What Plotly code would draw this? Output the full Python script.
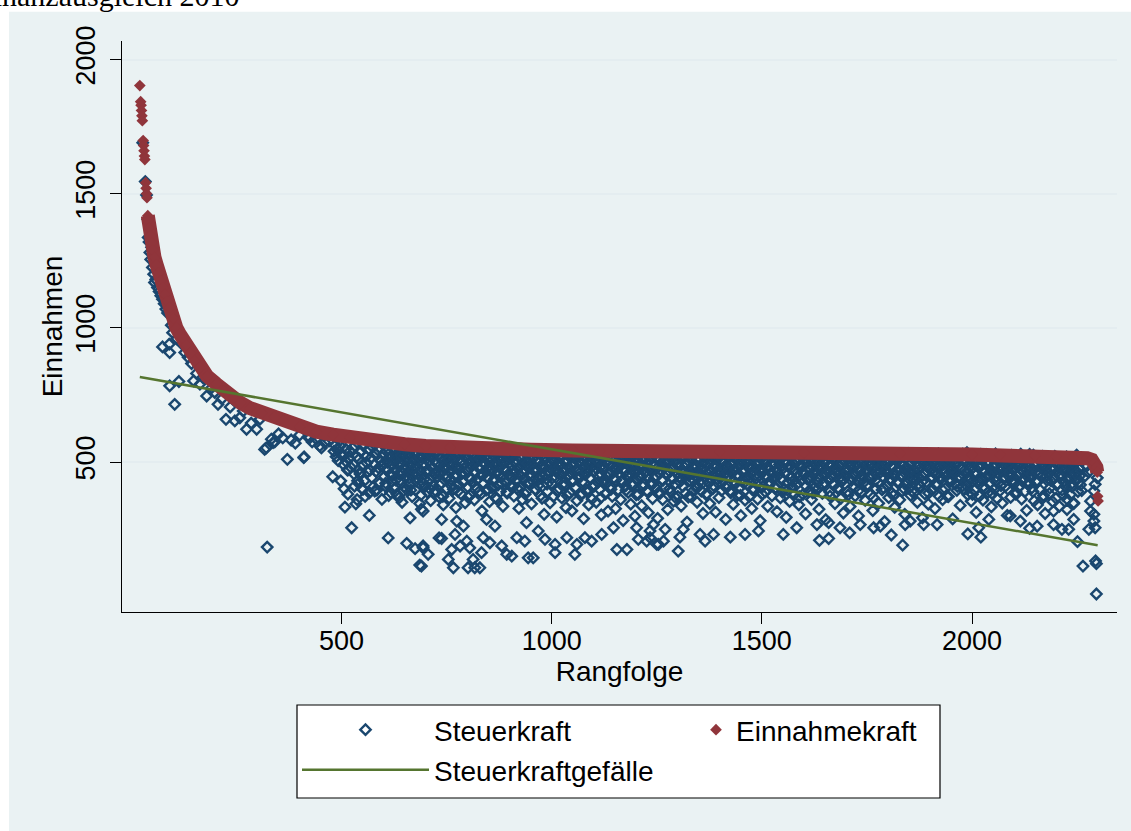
import plotly.graph_objects as go

# ---------------- data ----------------
tick_werte = [500, 1000, 1500, 2000]

# Einnahmekraft: (Rangfolge, Wert)
einnahme_punkte = [(20,1903),(22,1843),(23,1830),(24,1810),(25,1790),(26,1772),(28,1698),(29,1680),
    (30,1660),(31,1640),(32,1627),(34,1541),(35,1520),(36,1500),(37,1485),(39,1418),(40,1400),
    (42,1372),(45,1342),(48,1315),(51,1290),(55,1262),(60,1235),(65,1205),(70,1175),(75,1149),
    (80,1125),(85,1100),(91,1075),(100,1035),(107,1000),(115,977),(122,960),(131,935),(140,905),
    (150,877),(163,851),(180,820),(202,791),(220,765),(242,739),(260,720),(282,701),(310,684),
    (340,667),(361,653),(400,631),(440,613),(480,602),(520,591),(560,582),(599,575),(650,566),
    (700,560),(758,554),(850,549),(950,546),(1050,543),(1115,541),(1234,540),(1400,538),
    (1600,535),(1829,531),(2000,528),(2067,527),(2150,524),(2200,521),(2240,518),(2274,514),
    (2285,508),(2292,496),(2296,480),(2298,462),(2299,372),(2300,355)]
einnahme_band_start = 39     # from here the red markers form a continuous band
einnahme_band_ende = 2298

# Steuerkraftgefaelle (linear trend): endpoints
gefaelle_rang = [20, 2299]
gefaelle_wert = [817, 190]

# Steuerkraft: individually read points (Rangfolge, Wert)
steuer_punkte = [(27,1690),(33,1545),(36,1495),(39,1405),(40,1337),(42,1320),(44,1281),(46,1255),
    (48,1300),(50,1225),(53,1200),(55,1169),(58,1180),(62,1150),(66,1135),(70,1120),(74,1107),
    (74,929),(78,1090),(82,1070),(86,1055),(90,939),(91,908),(91,784),(95,1010),(98,982),(103,715),
    (108,960),(113,800),(120,940),(127,908),(135,890),(143,867),(148,802),(155,830),(163,790),
    (170,815),(179,746),(190,775),(198,760),(206,715),(215,735),(225,659),(235,705),(246,653),
    (258,665),(266,690),(274,622),(285,645),(298,622),(306,660),(317,547),(321,553),(323,183),
    (333,585),(337,572),(341,575),(350,605),(360,590),(371,510),(380,582),(390,570),(400,600),
    (410,516),(411,519),(420,593),(425,591),(430,575),(440,585),(448,560),(452,553),(460,572),
    (470,578),(479,445),(482,540),(485,562),(487,520),(490,545),(492,505),(495,580),(497,560),
    (498,430),(500,532),(503,520),(505,490),(506,400),(508,332),(510,548),(512,500),(514,470),
    (515,380),(516,472),(518,515),(520,540),(522,480),(524,255),(526,552),(528,490),(530,455),
    (531,410),(532,560),(534,344),(536,520),(537,360),(538,430),(540,470),(541,420),
    (544,460),(551,398),(566,301),(579,392),(611,217),(647,392),(655,197),(663,292),(675,177),
    (686,116),(690,324),(694,187),(694,317),(694,180),(706,156),(690,112),(732,217),(738,286),
    (738,215),(754,137),(766,106),(762,174),(774,280),(770,230),(782,187),(790,261),(798,205),
    (801,106),(813,137),(817,106),(829,106),(805,180),(833,162),(837,218),(845,286),(853,199),
    (865,261),(881,187),(893,156),(905,149),(917,218),(936,205),(944,143),(956,143),(940,274),
    (968,243),(984,212),(1008,193),(1008,162),(1036,218),(1055,156),(1060,193),(1079,218),
    (1095,205),(1119,230),(1155,174),(1179,174),(1206,212),(1234,218),(1250,193),(1147,255),
    (1202,255),(1242,267),(1301,168),(1254,193),(1226,205),(1266,205),(1305,220),(1313,249),
    (1353,230),(1365,205),(1385,230),(1425,220),(1460,230),(1492,243),(1551,230),(1583,255),
    (1631,267),(1637,208),(1659,215),(1659,274),(1686,255),(1709,236),(1734,267),(1766,255),
    (1234,243),(1270,249),(1808,228),(1835,190),(1782,261),(1841,267),(1853,280),(1885,267),
    (1917,267),(1990,232),(2021,220),(2016,255),(2040,286),(2091,299),(2115,280),(2137,253),
    (2155,261),(2194,267),(2214,249),(2230,249),(2242,286),(2251,203),(2264,112),(2278,249),
    (2293,255),(2290,305),(2282,317),(2294,131),(2296,121),(2296,8),(2290,280),(2194,317),
    (2226,323),(2242,348),(2282,354),(2290,392),(2293,417),(2298,441)]

# Steuerkraft: dense cloud, every second rank starting at 542
steuer_dicht_start = 542
steuer_dicht_schritt = 2
steuer_dicht = [
    512,455,538,401,489,560,430,372,521,497,463,548,385,470,515,442,556,408,490,530,
    465,395,545,478,420,552,503,361,488,527,446,410,541,470,498,375,533,455,518,428,
    490,547,402,468,525,380,512,456,539,431,495,350,520,477,444,542,398,505,462,530,
    418,486,545,371,508,452,527,395,481,536,437,500,345,470,519,425,490,540,408,462,
    525,388,471,502,433,356,517,480,412,534,459,392,498,445,527,370,486,511,421,463,
    340,505,478,531,402,447,518,365,490,436,522,471,398,509,452,330,486,528,415,474,
    500,381,457,533,426,492,348,515,468,407,527,441,376,503,485,422,530,359,461,496,
    434,512,388,477,529,451,318,498,420,537,466,395,508,441,482,352,519,473,405,490,
    526,437,368,501,459,414,532,480,390,511,446,335,495,470,522,428,384,507,454,529,
    410,488,442,520,373,499,463,534,402,476,327,515,449,491,360,523,437,468,505,391,
    482,531,419,455,506,344,490,427,518,462,396,535,471,413,500,452,376,524,445,487,
    305,478,512,436,390,527,461,348,495,420,506,372,484,530,443,295,468,517,401,489,
    452,366,523,475,412,498,330,509,447,481,385,528,460,318,493,431,515,404,470,356,
    526,441,497,377,463,512,428,289,485,452,520,395,471,340,505,437,480,362,529,416,
    466,508,350,489,424,531,398,457,303,514,476,433,500,381,527,445,317,492,458,410,
    519,372,483,441,506,326,470,527,396,455,490,360,516,429,282,498,463,411,532,447,
    387,501,458,343,521,474,415,489,298,510,436,468,379,525,451,494,337,482,418,507,
    462,529,392,448,311,503,470,421,517,364,486,440,530,403,476,290,512,457,383,495,
    433,360,520,479,405,496,452,323,508,466,389,527,442,475,354,501,418,531,460,372,
    498,445,514,336,472,409,523,461,384,490,276,506,448,432,519,370,483,456,395,528,
    414,487,350,505,463,427,532,392,471,308,499,441,516,378,458,494,422,345,511,467,
    525,401,448,484,313,509,436,470,367,520,455,393,502,428,531,474,286,490,447,410,
    476,521,385,458,497,342,468,513,420,451,376,527,489,405,300,507,462,434,519,358,
    442,496,415,530,371,483,455,327,511,468,397,522,438,487,362,503,449,281,477,515,
    408,465,524,389,450,500,335,479,427,516,460,374,493,441,529,403,470,315,506,452,
    491,366,512,437,475,398,527,459,294,502,425,481,353,518,446,409,496,471,380,532,
    457,418,503,340,486,526,431,465,379,510,453,307,497,436,521,392,474,448,360,513,
    480,531,406,462,395,508,445,324,489,470,517,383,454,499,421,285,505,466,438,525,
    373,494,451,512,417,476,345,528,460,402,485,439,519,365,497,430,310,508,472,447,
    516,390,469,501,334,482,443,527,411,458,374,513,492,426,299,506,463,387,530,450,
    423,487,357,509,466,415,522,440,378,496,453,319,481,518,432,400,503,475,346,524,
    461,508,396,446,488,278,470,529,412,455,367,500,437,516,384,483,449,331,510,468,
    501,428,474,359,523,445,392,490,462,305,514,420,478,531,402,457,376,498,439,517,
    385,466,512,433,350,495,471,409,526,448,292,504,459,381,519,426,487,343,476,507,
    442,521,398,463,489,326,508,451,416,530,372,485,437,502,360,474,513,401,447,494,
    514,371,483,430,505,456,288,472,526,419,461,394,497,445,517,338,480,408,529,452,
    468,500,413,535,378,490,443,509,354,476,428,520,397,463,312,505,484,432,373,523,
    436,489,358,511,467,403,527,450,386,498,421,474,333,516,458,480,399,530,445,364,
    507,455,392,478,520,347,494,438,512,410,467,301,503,447,485,368,525,431,476,418,
    492,380,518,446,405,487,459,529,362,471,434,510,390,452,320,500,479,423,515,441,
    403,467,526,355,485,427,498,340,512,460,396,478,445,521,375,490,308,472,433,505,
    458,382,497,430,515,352,476,441,500,365,462,418,489,335,505,450,395,470,428,482,
    410,495,362,468,440,503,378,455,420,487,345,472,498,431,462,390,476,448,415]

# Steuerkraft: core of the cloud, every fourth rank starting at 601
steuer_kern_start = 601
steuer_kern_schritt = 4
steuer_kern = [
    498,421,472,515,386,450,507,433,489,366,523,461,408,482,517,440,395,470,502,428,
    455,519,377,490,436,511,468,402,527,447,385,496,459,414,520,372,484,441,508,463,
    412,486,529,448,391,475,503,425,458,516,369,492,437,521,466,404,480,510,383,452,
    518,444,397,471,506,430,488,362,513,457,420,497,476,389,524,443,467,409,501,435,
    478,404,512,459,380,495,426,521,449,471,399,508,434,485,365,517,456,418,490,527,
    441,509,466,392,483,525,415,462,498,374,452,515,430,487,406,470,520,446,381,504,
    463,387,496,438,519,410,477,504,445,367,490,529,421,459,494,398,514,472,433,481,
    506,428,471,512,395,453,489,417,526,460,378,499,443,481,408,516,464,390,475,522,
    419,493,447,384,511,468,432,500,457,523,401,479,439,370,507,485,426,462,515,448,
    487,369,458,520,434,476,402,509,450,493,425,528,382,466,441,503,412,483,456,517,
    440,510,479,407,461,525,393,488,430,472,516,449,376,497,421,468,505,437,485,398,
    524,451,416,494,463,380,508,442,478,413,519,455,489,404,470,527,436,388,499,460,
    395,482,513,427,466,502,444,371,491,520,459,410,477,438,511,385,465,496,423,506,
    470,417,500,456,529,389,484,447,415,512,473,399,495,438,521,462,377,490,431,508,
    448,521,392,474,437,505,466,411,487,526,443,368,501,459,422,515,480,404,464,493,
    512,433,486,375,457,518,420,495,449,403,476,530,439,467,391,508,452,484,418,524,
    426,497,458,511,384,470,439,503,415,481,525,446,397,491,461,372,513,435,477,505,
    488,409,520,443,476,396,507,462,430,517,379,494,451,423,486,528,405,469,441,498,
    453,516,381,489,427,504,470,412,522,445,484,399,461,509,433,476,388,518,457,492,
    506,438,472,419,528,455,390,497,464,428,511,480,366,490,446,514,403,473,436,521,
    415,487,450,501,376,467,519,431,482,408,495,458,526,422,474,393,509,448,485,462]

titel_text = "Finanzausgleich 2010"
x_titel = "Rangfolge"
y_titel = "Einnahmen"
namen = ["Steuerkraft", "Einnahmekraft", "Steuerkraftgefälle"]

# ---------------- assemble ----------------
rang_s = ([p[0] for p in steuer_punkte]
          + [steuer_dicht_start + steuer_dicht_schritt * i for i in range(len(steuer_dicht))]
          + [steuer_kern_start + steuer_kern_schritt * i for i in range(len(steuer_kern))])
wert_s = [p[1] for p in steuer_punkte] + steuer_dicht + steuer_kern

rang_e = [p[0] for p in einnahme_punkte]
wert_e = [p[1] for p in einnahme_punkte]
band = [p for p in einnahme_punkte if einnahme_band_start <= p[0] <= einnahme_band_ende]

BLUE = "#1A476F"
RED = "#90353B"
GREEN = "#55752F"
BG = "#EAF2F3"

W, H = 1131, 831
ML, MR, MT, MB = 122, 14, 41, 219
PW = W - ML - MR
PH = H - MT - MB

def px_x(px):
    return (px - ML) / PW

def px_y(py):
    return (H - MB - py) / PH

fig = go.Figure()
fig.add_trace(go.Scatter(x=rang_s, y=wert_s, mode="markers", name=namen[0], legend="legend",
                         marker=dict(symbol="diamond-open", size=8, color=BLUE,
                                     line=dict(width=2.4, color=BLUE))))
fig.add_trace(go.Scatter(x=[p[0] for p in band], y=[p[1] for p in band], mode="lines",
                         line=dict(color=RED, width=14), showlegend=False, hoverinfo="skip"))
fig.add_trace(go.Scatter(x=rang_e, y=wert_e, mode="markers", name=namen[1], legend="legend3",
                         marker=dict(symbol="diamond", size=9, color=RED)))
fig.add_trace(go.Scatter(x=gefaelle_rang, y=gefaelle_wert, mode="lines", name=namen[2],
                         legend="legend2", line=dict(color=GREEN, width=2.5)))

legend_common = dict(bgcolor="rgba(0,0,0,0)", borderwidth=0, font=dict(size=28),
                     xanchor="left", yanchor="top", orientation="v")

fig.update_layout(
    width=W, height=H,
    margin=dict(l=ML, r=MR, t=MT, b=MB, autoexpand=False),
    paper_bgcolor="white", plot_bgcolor="white",
    font=dict(family="Liberation Sans, Arial, sans-serif", size=28, color="black"),
    showlegend=True,
    xaxis=dict(range=[-22.4, 2345], tickvals=tick_werte, ticks="outside", ticklen=11,
               tickwidth=1, tickcolor="black", showline=True, linecolor="black", linewidth=1.3,
               showgrid=False, zeroline=False, tickfont=dict(size=27), ticklabelstandoff=-7,
               title=dict(text=x_titel, font=dict(size=28), standoff=2)),
    yaxis=dict(range=[-59, 2069], tickvals=tick_werte, tickangle=-90, ticks="outside", ticklen=11,
               tickwidth=1, tickcolor="black", showline=True, linecolor="black", linewidth=1.3,
               showgrid=True, gridcolor="#E4EDF0", gridwidth=1.5, zeroline=False,
               tickfont=dict(size=27), ticklabelstandoff=4,
               title=dict(text=y_titel, font=dict(size=28), standoff=0)),
    legend=dict(x=px_x(297), y=px_y(705), itemwidth=127, **legend_common),
    legend2=dict(x=px_x(297), y=px_y(745), itemwidth=127, **legend_common),
    legend3=dict(x=px_x(696), y=px_y(705), itemwidth=30, **legend_common),
    shapes=[dict(type="rect", xref="paper", yref="paper", x0=px_x(9), x1=px_x(1140),
                 y0=px_y(840), y1=px_y(11.7), fillcolor=BG, line=dict(width=0), layer="below"),
            dict(type="rect", xref="paper", yref="paper", x0=px_x(297), x1=px_x(940),
                 y0=px_y(798), y1=px_y(705), fillcolor="white",
                 line=dict(width=1.2, color="black"), layer="below")],
    annotations=[dict(text=titel_text, xref="paper", yref="paper", x=px_x(-25), y=px_y(14),
                      xanchor="left", yanchor="bottom", showarrow=False,
                      font=dict(family="Liberation Serif, serif", size=30, color="black"))],
)

fig.write_html("out.html", config={"displayModeBar": False},
               post_script="document.body.style.margin='0';")
